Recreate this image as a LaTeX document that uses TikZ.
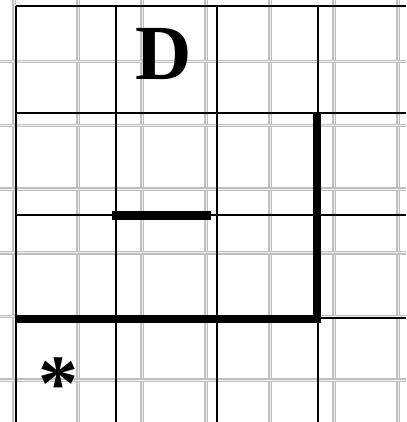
\documentclass[tikz,border=0pt]{standalone}
\usepackage{fontspec}
\setmainfont{Liberation Serif}
\begin{document}
\begin{tikzpicture}[x=1pt,y=-1pt]
  \useasboundingbox (0,0) rectangle (406,422);
  % grey squared paper
  \foreach \gx in {14,78,...,398} {
    \draw[gray!50,line width=3.5pt] (\gx,0) -- (\gx,422);
    \draw[gray!12,line width=1pt] (\gx,0) -- (\gx,422);
  }
  \foreach \gy in {61.7,125.4,189.1,252.8,316.5,380.2} {
    \draw[gray!50,line width=3.5pt] (0,\gy) -- (406,\gy);
    \draw[gray!12,line width=1pt] (0,\gy) -- (406,\gy);
  }
  % thin black frame lines
  \foreach \bx in {16,116,217,318}
    \draw[line width=1.3pt] (\bx,6) -- (\bx,422);
  \foreach \by in {6,113,215,318}
    \draw[line width=1.3pt] (16,\by) -- (406,\by);
  % heavy walls
  \draw[line width=8pt] (16,318.5) -- (317,318.5) -- (317,113);
  \draw[line width=8.5pt] (112,215.5) -- (211,215.5);
  % labels
  \node[font=\fontsize{78}{78}\selectfont\bfseries] (dlabel) at (164,54) {D};
  \node[font=\fontsize{80}{80}\selectfont\bfseries,anchor=base] (star) at (58,410) {*};
\end{tikzpicture}
\end{document}
